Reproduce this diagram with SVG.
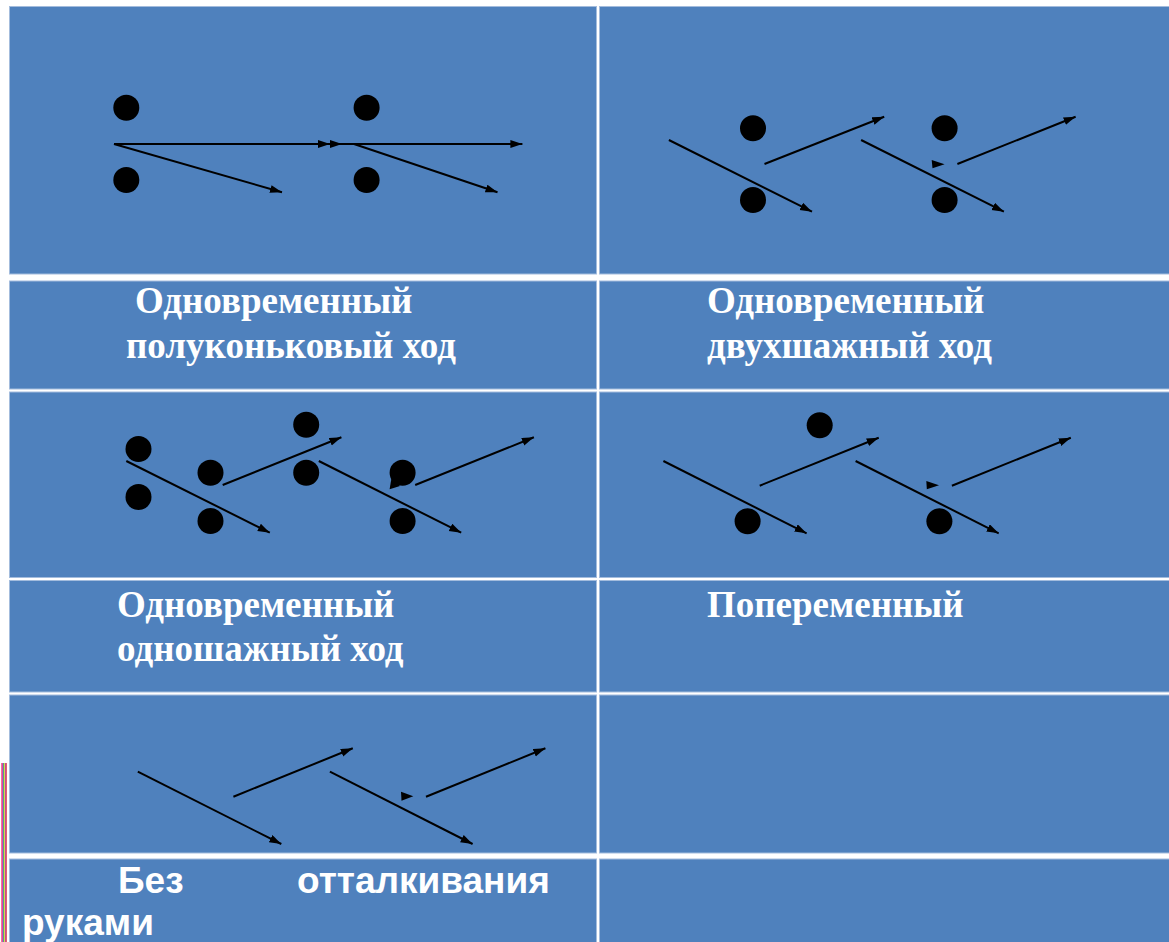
<svg xmlns="http://www.w3.org/2000/svg" width="1169" height="942" viewBox="0 0 1169 942">
<style>
.cell{fill:#4F81BD;stroke:#A3BCDD;stroke-width:1}
.dot{fill:#000}
.arr{stroke:#000;stroke-width:2;fill:none;marker-end:url(#ah)}
.tip{fill:#000}
.ser{font-family:"Liberation Serif","Times New Roman",serif;font-weight:bold;font-size:37px;fill:#fff}
.san{font-family:"Liberation Sans",Arial,sans-serif;font-weight:bold;font-size:37px;fill:#fff}
</style>
<defs>
<marker id="ah" markerUnits="userSpaceOnUse" markerWidth="13" markerHeight="9" refX="12" refY="4" orient="auto">
<path d="M0,0 L12,4 L0,8 z" fill="#000"/>
</marker>
</defs>
<rect width="1169" height="942" fill="#fff"/>
<g id="stripes">
<rect x="1" y="763" width="1" height="179" fill="#f07890"/>
<rect x="2" y="763" width="1" height="179" fill="#d040c0"/>
<rect x="3" y="763" width="1" height="179" fill="#50b070"/>
<rect x="4" y="763" width="1" height="179" fill="#e0d050"/>
<rect x="5" y="763" width="1" height="179" fill="#c05090"/>
<rect x="6" y="763" width="1" height="179" fill="#e06070"/>
</g>
<g id="cell-r1-left"><rect class="cell" x="9.5" y="6.5" width="587" height="267.5"/></g>
<g id="cell-r1-right"><rect class="cell" x="599.5" y="6.5" width="570" height="267.5"/></g>
<g id="cell-r2-left"><rect class="cell" x="9.5" y="281" width="587" height="108"/>
<text class="ser" x="135" y="313">Одновременный</text>
<text class="ser" x="126" y="358">полуконьковый ход</text></g>
<g id="cell-r2-right"><rect class="cell" x="599.5" y="281" width="570" height="108"/>
<text class="ser" x="707" y="313">Одновременный</text>
<text class="ser" x="707" y="358">двухшажный ход</text></g>
<g id="cell-r3-left"><rect class="cell" x="9.5" y="392" width="587" height="185.5"/></g>
<g id="cell-r3-right"><rect class="cell" x="599.5" y="392" width="570" height="185.5"/></g>
<g id="cell-r4-left"><rect class="cell" x="9.5" y="580.5" width="587" height="111.5"/>
<text class="ser" x="117" y="617">Одновременный</text>
<text class="ser" x="117" y="661">одношажный ход</text></g>
<g id="cell-r4-right"><rect class="cell" x="599.5" y="580.5" width="570" height="111.5"/>
<text class="ser" x="707" y="617">Попеременный</text></g>
<g id="cell-r5-left"><rect class="cell" x="9.5" y="695" width="587" height="158"/></g>
<g id="cell-r5-right"><rect class="cell" x="599.5" y="695" width="570" height="158"/></g>
<g id="cell-r6-left"><rect class="cell" x="9.5" y="859" width="587" height="90"/>
<text class="san" x="118" y="893">Без</text>
<text class="san" x="297" y="893">отталкивания</text>
<text class="san" x="22" y="935">руками</text></g>
<g id="cell-r6-right"><rect class="cell" x="599.5" y="859" width="570" height="90"/></g>
<g id="dots">
<circle class="dot" cx="126.3" cy="107.7" r="13"/>
<circle class="dot" cx="126.3" cy="180" r="13"/>
<circle class="dot" cx="366.6" cy="107.7" r="13"/>
<circle class="dot" cx="366.6" cy="180" r="13"/>
<circle class="dot" cx="753" cy="128.3" r="13"/>
<circle class="dot" cx="753" cy="200" r="13"/>
<circle class="dot" cx="944.6" cy="128.3" r="13"/>
<circle class="dot" cx="944.6" cy="200" r="13"/>
<circle class="dot" cx="138.5" cy="449" r="13"/>
<circle class="dot" cx="138.5" cy="497" r="13"/>
<circle class="dot" cx="210.5" cy="472.7" r="13"/>
<circle class="dot" cx="210.5" cy="521" r="13"/>
<circle class="dot" cx="306.2" cy="424.7" r="13"/>
<circle class="dot" cx="306.2" cy="472.7" r="13"/>
<circle class="dot" cx="402.6" cy="472.7" r="13"/>
<circle class="dot" cx="402.6" cy="521" r="13"/>
<circle class="dot" cx="819.7" cy="425.3" r="13"/>
<circle class="dot" cx="747.6" cy="521.3" r="13"/>
<circle class="dot" cx="939.4" cy="521.3" r="13"/>
</g>
<g id="connectors">
<line class="arr" x1="114" y1="144" x2="330" y2="144"/>
<path class="tip" d="M330,140 L342,144 L330,148 z"/>
<line class="arr" x1="330" y1="144" x2="522.4" y2="144"/>
<line class="arr" x1="114" y1="144" x2="282" y2="192.3"/>
<line class="arr" x1="354" y1="144" x2="497.5" y2="192.3"/>
<line class="arr" x1="668.9" y1="140" x2="812" y2="211.7"/>
<line class="arr" x1="764.5" y1="164" x2="884.2" y2="116.7"/>
<line class="arr" x1="861.1" y1="140" x2="1003.9" y2="211.7"/>
<line class="arr" x1="957.4" y1="164" x2="1075.6" y2="116.7"/>
<path class="tip" d="M931.7,160 L944.6,164.2 L932.5,168.3 z"/>
<line class="arr" x1="126.3" y1="461" x2="269.8" y2="532.7"/>
<line class="arr" x1="222.7" y1="485" x2="341.4" y2="437.3"/>
<line class="arr" x1="318.8" y1="461" x2="461.2" y2="532.7"/>
<line class="arr" x1="415.2" y1="485" x2="533.9" y2="437.3"/>
<path class="tip" d="M389.6,489.3 L391.5,478 L400,486 z"/>
<line class="arr" x1="663.4" y1="461" x2="806.6" y2="533.3"/>
<line class="arr" x1="759.7" y1="485.7" x2="878.7" y2="437.7"/>
<line class="arr" x1="855.6" y1="461" x2="998.7" y2="533.3"/>
<line class="arr" x1="951.9" y1="485.7" x2="1070.8" y2="437.7"/>
<path class="tip" d="M926.3,481 L939,485.2 L926.8,489.3 z"/>
<line class="arr" x1="137.8" y1="771.7" x2="281.3" y2="844"/>
<line class="arr" x1="233.4" y1="796.7" x2="352.8" y2="748.3"/>
<line class="arr" x1="329.9" y1="771.7" x2="472.6" y2="844"/>
<line class="arr" x1="426" y1="796.7" x2="545.4" y2="748.3"/>
<path class="tip" d="M401,791.7 L413.3,796.2 L401.5,800.7 z"/>
</g>
</svg>
